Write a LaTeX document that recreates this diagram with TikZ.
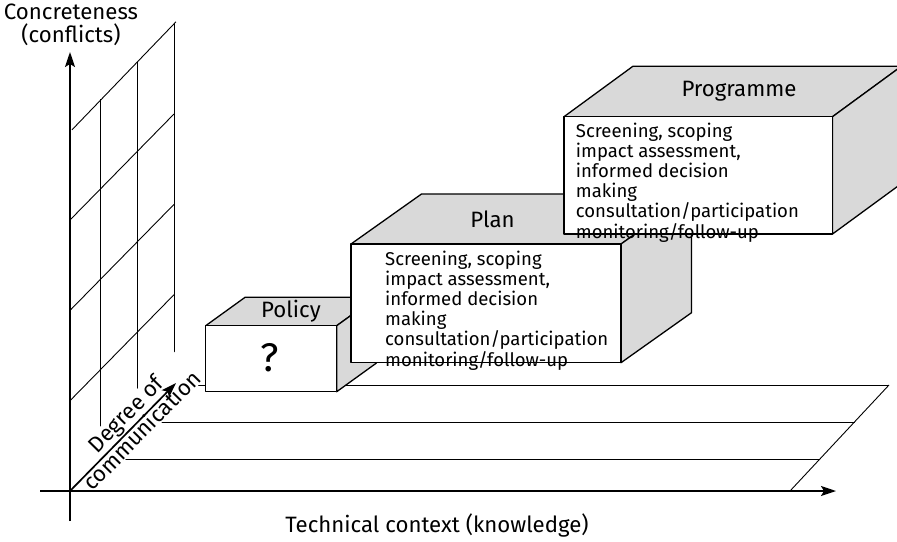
\documentclass[tikz,border=0pt]{standalone}
\usepackage{fontspec}
\setmainfont{Fira Sans}
\usetikzlibrary{arrows.meta}
\newlength\measlen
\AtBeginDocument{%
  \settowidth\measlen{\fontsize{10}{12}\selectfont consultation/participation}%
  \pgfmathsetmacro\bodysz{10*223/\measlen}%
  \settowidth\measlen{\fontsize{10}{12}\selectfont Programme}%
  \pgfmathsetmacro\lblsz{10*115/\measlen}%
}
\begin{document}
\begin{tikzpicture}[x=1pt,y=-1pt,
  axis/.style={line width=1.7pt,-{Stealth[length=15pt,width=10pt,inset=3pt]}},
  gridline/.style={line width=0.9pt},
  face/.style={draw,line width=1.3pt,line join=round},
  frontface/.style={face,fill=white},
  sideface/.style={face,fill=black!15},
  lbl/.style={font=\fontsize{\lblsz}{23}\selectfont,inner sep=0pt},
  body/.style={font=\fontsize{\bodysz}{18.6}\selectfont,anchor=base west,inner sep=0pt},
]
\useasboundingbox (0,0) rectangle (897,541);
\clip (0,0) rectangle (897,541);

% ---- floor ----
\coordinate (O) at (70,491);
\coordinate (D1) at (100,459);
\coordinate (D2) at (137,422);
\coordinate (D3) at (174,385);
\coordinate (R0) at (790,491);
\coordinate (R1) at (820,459);
\coordinate (R2) at (854.5,422);
\coordinate (R3) at (889,385);
\draw[gridline] (D1) -- (R1);
\draw[gridline] (D2) -- (R2);
\draw[gridline] (D3) -- (R3);
\draw[gridline] (R0) -- (R3);

% ---- wall ----
\coordinate (A1) at (70,400.7);  \coordinate (B1) at (174,294.7);
\coordinate (A2) at (70,310.4);  \coordinate (B2) at (174,204.4);
\coordinate (A3) at (70,220);    \coordinate (B3) at (174,114);
\coordinate (A4) at (72,129.8);  \coordinate (B4) at (176,21.8);
\coordinate (T1) at (100,99.2);
\coordinate (T2) at (137,61.5);
\coordinate (T3) at (174,23.8);
\draw[gridline] (A1) -- (B1);
\draw[gridline] (A2) -- (B2);
\draw[gridline] (A3) -- (B3);
\draw[gridline] (A4) -- (B4);
\draw[gridline] (D1) -- (T1);
\draw[gridline] (D2) -- (T2);
\draw[gridline] (D3) -- (T3);

% ---- diagonal label ----
\node[lbl,rotate=45.5,align=center,fill=white,inner sep=0.5pt] (degcom) at (133.5,422) {Degree of\\communication};

% ---- axes ----
\coordinate (ytail) at (70,521);
\coordinate (ytip) at (70,52);
\coordinate (xtail) at (40,491);
\coordinate (xtip) at (836,491);
\coordinate (dtip) at (176,383);
\draw[axis] (ytail) -- (ytip);
\draw[axis] (xtail) -- (xtip);
\draw[axis] (O) -- (dtip);

\node[lbl,align=center] (conc) at (71,25) {Concreteness\\(conflicts)};
\node[lbl] (tech) at (437,525) {Technical context (knowledge)};

% ---- Policy box ----
\coordinate (p1) at (205.7,325.7);
\coordinate (p2) at (336.7,325.7);
\coordinate (p3) at (336.7,391.7);
\filldraw[sideface] (p1) -- ++(39.5,-28.5) -- ++(131,0) -- (p2) -- cycle;
\filldraw[sideface] (p2) -- ++(39.5,-28.5) -- ++(0,66) -- (p3) -- cycle;
\filldraw[frontface] (p1) rectangle (p3);
\node[lbl] (poltitle) at (291,311) {Policy};
\node[font=\fontsize{40}{40}\selectfont,inner sep=0pt] (q) at (270,358) {?};

% ---- Plan box ----
\coordinate (n1) at (351,244);
\coordinate (n2) at (621,244);
\coordinate (n3) at (621,362.7);
\filldraw[sideface] (n1) -- ++(70.5,-50) -- ++(270,0) -- (n2) -- cycle;
\filldraw[sideface] (n2) -- ++(70.5,-50) -- ++(0,118.7) -- (n3) -- cycle;
\filldraw[frontface] (n1) rectangle (n3);
\node[lbl] (plantitle) at (492.5,219) {Plan};
\node[body] (plantext) at (385,265) {\begin{tabular}[t]{@{}l@{}}Screening, scoping\\impact assessment,\\informed decision\\making\\consultation/participation\\monitoring/follow-up\end{tabular}};

% ---- Programme box ----
\coordinate (g1) at (564,116.7);
\coordinate (g2) at (832.5,116.7);
\coordinate (g3) at (832.5,234);
\filldraw[sideface] (g1) -- ++(69,-50.5) -- ++(268.5,0) -- (g2) -- cycle;
\filldraw[sideface] (g2) -- ++(69,-50.5) -- ++(0,117.3) -- (g3) -- cycle;
\filldraw[frontface] (g1) rectangle (g3);
\node[lbl] (progtitle) at (739,91.7) {Programme};
\node[body] (progtext) at (575.7,137.3) {\begin{tabular}[t]{@{}l@{}}Screening, scoping\\impact assessment,\\informed decision\\making\\consultation/participation\\monitoring/follow-up\end{tabular}};
\end{tikzpicture}
\end{document}
